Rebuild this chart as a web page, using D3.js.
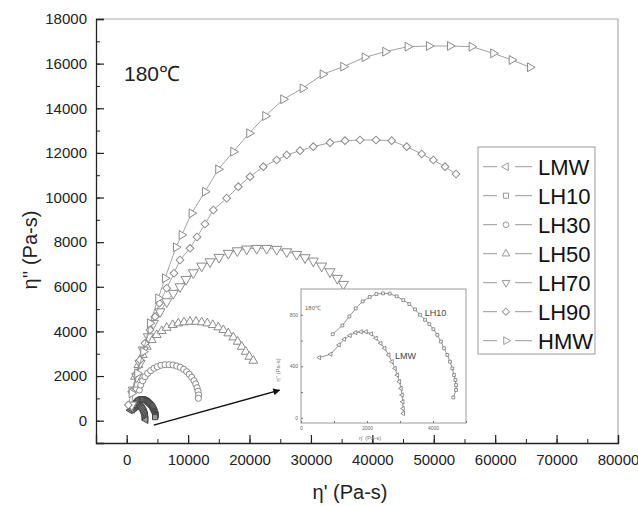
<!DOCTYPE html>
<html>
<head>
<meta charset="utf-8">
<script src="https://cdn.jsdelivr.net/npm/d3@7"></script>
<style>
  html, body { margin: 0; padding: 0; background: #fff; }
  svg { display: block; font-family: "Liberation Sans", Arial, sans-serif; }
</style>
</head>
<body>
<div id="chart"></div>
<script>
// Cole-Cole plot, eta'' vs eta', 180 C
const xTicks = [0, 10000, 20000, 30000, 40000, 50000, 60000, 70000, 80000];
const yTicks = [0, 2000, 4000, 6000, 8000, 10000, 12000, 14000, 16000, 18000];

const lmw = [[556,468],[899,494],[1152,566],[1313,610],[1485,639],[1657,662],[1818,668],[1970,668],[2131,652],[2273,618],[2414,579],[2535,540],[2657,488],[2758,436],[2848,384],[2919,332],[2980,281],[3030,229],[3061,177],[3081,125],[3091,73],[3101,34]];
const lh10 = [[960,649],[1253,717],[1465,787],[1657,849],[1869,904],[2081,938],[2283,961],[2485,966],[2687,964],[2899,943],[3101,914],[3283,883],[3455,842],[3606,800],[3758,761],[3889,727],[4010,688],[4131,644],[4242,592],[4333,540],[4434,488],[4515,436],[4586,384],[4636,332],[4677,294],[4697,255],[4697,216],[4616,158]];
const lh30 = [[2052,1376],[2280,1600],[2605,1792],[2980,1972],[3420,2124],[3908,2241],[4446,2348],[4983,2420],[5585,2483],[6237,2509],[6888,2509],[7540,2496],[8142,2451],[8728,2393],[9282,2303],[9770,2196],[10194,2079],[10585,1945],[10959,1792],[11236,1645],[11448,1479],[11611,1317],[11725,1152],[11660,1004]];
const lh50 = [[1352,1972],[1889,2496],[2605,2944],[3257,3316],[4071,3616],[4885,3840],[5699,4020],[6514,4167],[7491,4288],[8403,4365],[9331,4409],[10308,4436],[11285,4436],[12213,4409],[13125,4365],[14004,4288],[14916,4185],[15730,4064],[16545,3916],[17359,3737],[18075,3540],[18727,3316],[19378,3092],[19964,2868],[20616,2689]];
const lh70 = [[814,704],[1075,1376],[1628,1972],[2166,2572],[2703,3168],[3517,3764],[4332,4365],[5423,4884],[6514,5333],[7588,5709],[8679,6005],[9656,6336],[10845,6632],[12213,6932],[13565,7125],[15030,7322],[16545,7501],[18010,7618],[19541,7694],[21169,7725],[22798,7725],[24426,7681],[26054,7573],[27683,7457],[29034,7304],[30386,7156],[31754,6932],[33105,6677],[34294,6381],[35271,6112]];
const lh90 = [[260,704],[814,1300],[1628,2124],[2166,2720],[2980,3468],[3794,4069],[4608,4660],[5309,5261],[6514,5933],[7702,6605],[8679,7202],[10308,7725],[11448,8232],[12750,8814],[14102,9442],[16284,9966],[18173,10486],[20078,10934],[22244,11382],[24426,11682],[26054,11906],[28220,12099],[30386,12278],[33105,12457],[35547,12547],[37990,12578],[40596,12578],[43152,12547],[45595,12278],[48038,11951],[49927,11682],[51832,11382],[53623,11054]];
const hmw = [[814,1228],[1726,2124],[2703,3092],[3794,4365],[5146,5485],[6237,6381],[8028,7770],[8956,8321],[10585,9294],[12750,10262],[14916,11266],[17359,12054],[19964,12879],[22570,13654],[25501,14402],[28660,14895],[31917,15523],[35271,15863],[38756,16284],[42110,16535],[45758,16759],[49226,16791],[52646,16791],[56179,16759],[59696,16463],[62693,16163],[65674,15836]];

const seriesNames = ['LMW', 'LH10', 'LH30', 'LH50', 'LH70', 'LH90', 'HMW'];
const seriesData = [lmw, lh10, lh30, lh50, lh70, lh90, hmw];

// inset (zoom on LMW / LH10)
const insetXTicks = [0, 2000, 4000];
const insetYTicks = [0, 400, 800];
const insetLabels = [
  { name: 'LH10', at: [3750, 790] },
  { name: 'LMW', at: [2850, 455] }
];
const arrowFrom = [4400, -200];
const arrowTo = [24900, 1370];

// symbol: [d3 symbol type, rotation, main size]
const symbols = {
  LMW:  [d3.symbolTriangle, -90, 22],
  LH10: [d3.symbolSquare, 0, 26],
  LH30: [d3.symbolCircle, 0, 30],
  LH50: [d3.symbolTriangle, 0, 34],
  LH70: [d3.symbolTriangle, 180, 44],
  LH90: [d3.symbolSquare, 45, 30],
  HMW:  [d3.symbolTriangle, 90, 34]
};
const strokeOf = name => (name === 'LMW' || name === 'LH10') ? '#444' : '#8a8a8a';

const W = 638, H = 506;
const svg = d3.select('#chart').append('svg').attr('width', W).attr('height', H);

// 1. Scales
const x = d3.scaleLinear().domain([-5000, 80000]).range([96, 618]);
const y = d3.scaleLinear().domain([-1000, 18000]).range([443, 19]);

// 2. Frame + axes
svg.append('path')
  .attr('d', `M${x.range()[0]},${y.range()[1]}H${x.range()[1]}V${y.range()[0]}`)
  .attr('fill', 'none').attr('stroke', '#aaa').attr('stroke-width', 1.2);

const xMinor = d3.range(-5000, 80001, 5000);
const yMinor = d3.range(-1000, 18001, 1000);

svg.append('g')
  .attr('transform', `translate(0,${y.range()[0]})`)
  .call(d3.axisBottom(x).tickValues(xMinor).tickSize(-4).tickFormat(''))
  .call(g => g.select('.domain').remove())
  .call(g => g.selectAll('line').attr('stroke', '#222'));

svg.append('g')
  .attr('transform', `translate(0,${y.range()[0]})`)
  .call(d3.axisBottom(x).tickValues(xTicks).tickSize(-8).tickPadding(11).tickFormat(d3.format('d')))
  .call(g => g.select('.domain').attr('stroke', '#222').attr('stroke-width', 1.3))
  .call(g => g.selectAll('line').attr('stroke', '#222').attr('stroke-width', 1.2))
  .call(g => g.selectAll('text').attr('fill', '#222').attr('font-size', 15));

svg.append('g')
  .attr('transform', `translate(${x.range()[0]},0)`)
  .call(d3.axisLeft(y).tickValues(yMinor).tickSize(-4).tickFormat(''))
  .call(g => g.select('.domain').remove())
  .call(g => g.selectAll('line').attr('stroke', '#222'));

svg.append('g')
  .attr('transform', `translate(${x.range()[0]},0)`)
  .call(d3.axisLeft(y).tickValues(yTicks).tickSize(-8).tickPadding(9).tickFormat(d3.format('d')))
  .call(g => g.select('.domain').attr('stroke', '#222').attr('stroke-width', 1.3))
  .call(g => g.selectAll('line').attr('stroke', '#222').attr('stroke-width', 1.2))
  .call(g => g.selectAll('text').attr('fill', '#222').attr('font-size', 15));

svg.append('text')
  .attr('x', 350).attr('y', 499)
  .attr('text-anchor', 'middle').attr('font-size', 20).attr('fill', '#222')
  .text("η' (Pa-s)");

svg.append('text')
  .attr('transform', 'translate(37,250) rotate(-90)')
  .attr('text-anchor', 'middle').attr('font-size', 20).attr('fill', '#222')
  .text("η'' (Pa-s)");

svg.append('text')
  .attr('x', 124).attr('y', 81)
  .attr('font-size', 21).attr('fill', '#222')
  .text('180℃');

// 3. Series (main plot)
const line = d3.line().x(d => x(d[0])).y(d => y(d[1]));
const plot = svg.append('g');

seriesNames.forEach((name, i) => {
  const [type, rot, size] = symbols[name];
  const col = strokeOf(name);
  plot.append('path')
    .datum(seriesData[i])
    .attr('d', line)
    .attr('fill', 'none').attr('stroke', col).attr('stroke-width', 0.8);
  plot.selectAll(null)
    .data(seriesData[i])
    .join('path')
    .attr('transform', d => `translate(${x(d[0])},${y(d[1])}) rotate(${rot})`)
    .attr('d', d3.symbol(type, size))
    .attr('fill', name === 'LMW' || name === 'LH10' ? '#999' : '#fff')
    .attr('stroke', col).attr('stroke-width', 1);
});

// 4. Arrow to inset
svg.append('defs').append('marker')
  .attr('id', 'arrowhead')
  .attr('viewBox', '0 0 10 10').attr('refX', 9).attr('refY', 5)
  .attr('markerWidth', 10).attr('markerHeight', 7).attr('markerUnits', 'userSpaceOnUse')
  .attr('orient', 'auto')
  .append('path').attr('d', 'M0,0L10,5L0,10Z').attr('fill', '#111');

svg.append('line')
  .attr('x1', x(arrowFrom[0])).attr('y1', y(arrowFrom[1]))
  .attr('x2', x(arrowTo[0])).attr('y2', y(arrowTo[1]))
  .attr('stroke', '#111').attr('stroke-width', 1.5)
  .attr('marker-end', 'url(#arrowhead)');

// 5. Inset
const xi = d3.scaleLinear().domain([0, 5000]).range([301, 466]);
const yi = d3.scaleLinear().domain([-40, 1000]).range([423, 289]);
const inset = svg.append('g');

inset.append('rect')
  .attr('x', xi.range()[0]).attr('y', yi.range()[1])
  .attr('width', xi.range()[1] - xi.range()[0]).attr('height', yi.range()[0] - yi.range()[1])
  .attr('fill', '#fff').attr('stroke', '#999').attr('stroke-width', 1);

inset.append('g')
  .attr('transform', `translate(0,${yi.range()[0]})`)
  .call(d3.axisBottom(xi).tickValues(d3.range(0, 5001, 1000)).tickSize(-2).tickPadding(3)
    .tickFormat(d => insetXTicks.includes(d) ? d : ''))
  .call(g => g.select('.domain').remove())
  .call(g => g.selectAll('line').attr('stroke', '#777'))
  .call(g => g.selectAll('text').attr('fill', '#666').attr('font-size', 5));

inset.append('g')
  .attr('transform', `translate(${xi.range()[0]},0)`)
  .call(d3.axisLeft(yi).tickValues(d3.range(0, 1000, 200)).tickSize(-2).tickPadding(3)
    .tickFormat(d => insetYTicks.includes(d) ? d : ''))
  .call(g => g.select('.domain').remove())
  .call(g => g.selectAll('line').attr('stroke', '#777'))
  .call(g => g.selectAll('text').attr('fill', '#666').attr('font-size', 5));

inset.append('text')
  .attr('x', 370).attr('y', 440).attr('text-anchor', 'middle')
  .attr('font-size', 6).attr('fill', '#777').text("η' (Pa-s)");
inset.append('text')
  .attr('transform', 'translate(280,370) rotate(-90)').attr('text-anchor', 'middle')
  .attr('font-size', 6).attr('fill', '#777').text("η'' (Pa-s)");
inset.append('text')
  .attr('x', 305).attr('y', 310)
  .attr('font-size', 6).attr('fill', '#666').text('180℃');

const iline = d3.line().x(d => xi(d[0])).y(d => yi(d[1]));
[['LMW', lmw], ['LH10', lh10]].forEach(([name, pts]) => {
  const [type, rot] = symbols[name];
  inset.append('path').datum(pts).attr('d', iline)
    .attr('fill', 'none').attr('stroke', '#666').attr('stroke-width', 0.7);
  inset.selectAll(null).data(pts).join('path')
    .attr('transform', d => `translate(${xi(d[0])},${yi(d[1])}) rotate(${rot})`)
    .attr('d', d3.symbol(type, 8))
    .attr('fill', '#fff').attr('stroke', '#666').attr('stroke-width', 0.7);
});

inset.selectAll('.ilabel').data(insetLabels).join('text')
  .attr('x', d => xi(d.at[0])).attr('y', d => yi(d.at[1]))
  .attr('font-size', 9).attr('fill', '#444')
  .text(d => d.name);

// 6. Legend
const legend = svg.append('g');
legend.append('rect')
  .attr('x', 478).attr('y', 147).attr('width', 117).attr('height', 207)
  .attr('fill', '#fff').attr('stroke', '#999').attr('stroke-width', 1);

const items = legend.selectAll('g.item').data(seriesNames).join('g')
  .attr('transform', (d, i) => `translate(0,${166.7 + i * 29})`);
items.append('line').attr('x1', 483).attr('x2', 497).attr('stroke', '#999');
items.append('line').attr('x1', 515).attr('x2', 532).attr('stroke', '#999');
items.append('path')
  .attr('transform', d => `translate(506,0) rotate(${symbols[d][1]})`)
  .attr('d', d => d3.symbol(symbols[d][0], 26)())
  .attr('fill', '#fff').attr('stroke', '#999').attr('stroke-width', 1);
items.append('text')
  .attr('x', 538).attr('dy', '0.36em')
  .attr('font-size', 22).attr('fill', '#111')
  .text(d => d);
</script>
</body>
</html>
